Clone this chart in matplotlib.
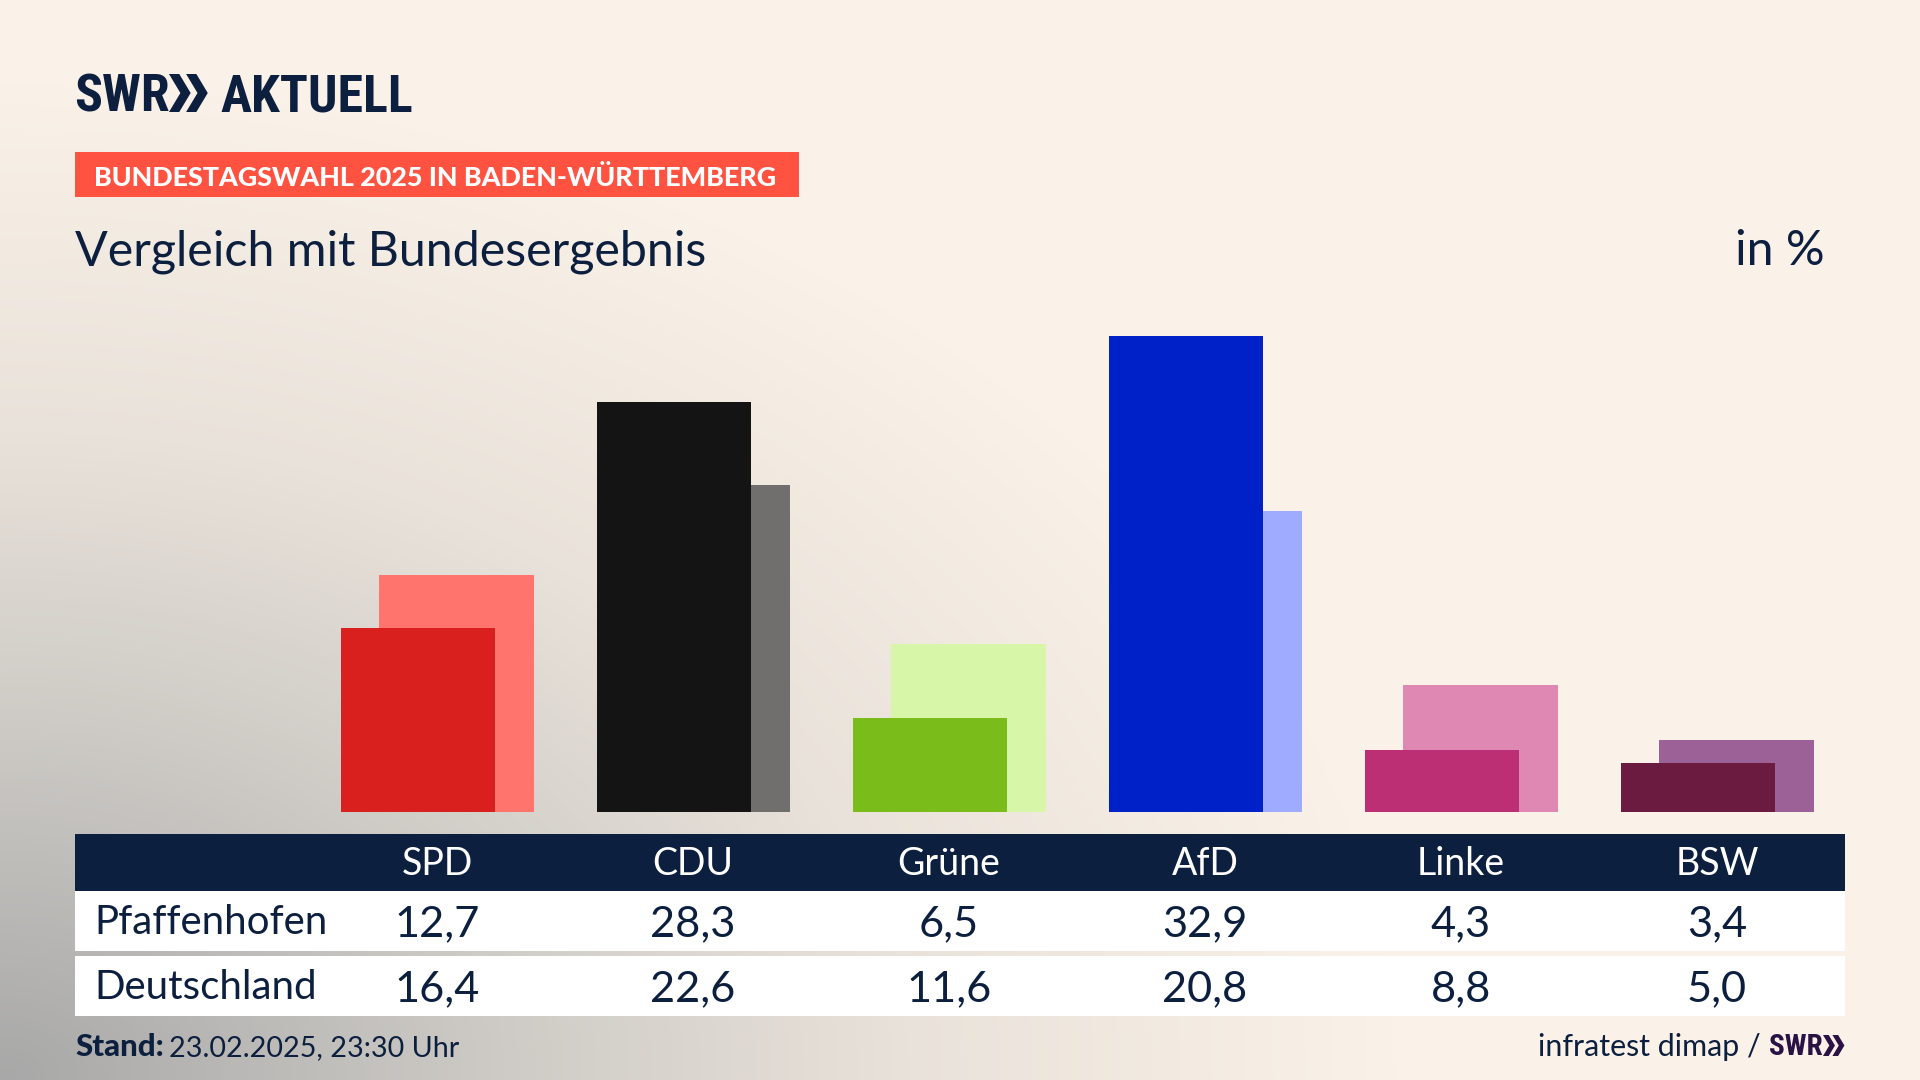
'''Bundestagswahl 2025: Pfaffenhofen compared with the federal result.'''
import matplotlib
matplotlib.use('Agg')
import matplotlib.patches as patches
import matplotlib.pyplot as plt
import numpy as np
from matplotlib import font_manager
from matplotlib.colors import LinearSegmentedColormap

parties = ['SPD', 'CDU', 'Grüne', 'AfD', 'Linke', 'BSW']
local_label = 'Pfaffenhofen'
federal_label = 'Deutschland'
local_values = [12.7, 28.3, 6.5, 32.9, 4.3, 3.4]
federal_values = [16.4, 22.6, 11.6, 20.8, 8.8, 5.0]
local_colors = ['#d9201f', '#141414', '#7abd1a', '#0021c8', '#bd2f75', '#6b1a40']
federal_colors = ['#ff746c', '#706f6d', '#d8f6a8', '#9fabff', '#e088b4', '#9c6197']

NAVY = '#0c1f3f'
W, H = 1920, 1080

# a condensed face for the logo if one exists, otherwise smaller Lato
installed = {f.name for f in font_manager.fontManager.ttflist}
if 'Roboto Condensed' in installed:
    LOGO_FONT, LOGO_SIZE, LOGO_SMALL = 'Roboto Condensed', 37.4, 21
else:
    LOGO_FONT, LOGO_SIZE, LOGO_SMALL = 'Lato', 31, 17


def fmt(value):
    return f'{value:.1f}'.replace('.', ',')


def chevrons(ax, x, y0, y1, color):
    '''the two SWR arrows, x is the left edge, y0 top and y1 bottom'''
    h = y1 - y0
    mid = (y0 + y1) / 2
    t, d = 0.27 * h, 0.3 * h
    for off in (0, 0.45 * h):
        ax.add_patch(patches.Polygon(
            [(x + off, y0), (x + off + t, y0), (x + off + t + d, mid),
             (x + off + t, y1), (x + off, y1), (x + off + d, mid)],
            closed=True, facecolor=color, edgecolor='none'))


plt.rcParams['font.family'] = ['Lato', 'DejaVu Sans']
fig = plt.figure(figsize=(W / 100, H / 100), dpi=100)

# background: cream, going grey towards the lower left corner
bg = fig.add_axes([0, 0, 1, 1], zorder=0)
yy, xx = np.mgrid[0:H:270j, 0:W:480j]
dist = np.sqrt((xx / 1400) ** 2 + ((H - yy) / 1000) ** 2)
shade = np.clip(dist, 0, 1)
cmap = LinearSegmentedColormap.from_list(
    'bg', [(0, '#a8a8a8'), (0.35, '#cdcac5'), (0.65, '#e9e2da'), (1, '#faf2e8')])
bg.imshow(shade, cmap=cmap, extent=(0, W, H, 0), aspect='auto', vmin=0, vmax=1, interpolation='bilinear')
bg.axis('off')

# bars
ppu = 14.48
ax_bottom, ax_top = 812, 812 - 35 * ppu
ax_left, ax_right = 75, 1845
ax = fig.add_axes([ax_left / W, 1 - ax_bottom / H, (ax_right - ax_left) / W, (ax_bottom - ax_top) / H], zorder=1)
ax.patch.set_alpha(0)
step = 256
x = np.arange(len(parties))
ax.bar(x + 0.0754, federal_values, width=0.605, color=federal_colors)
ax.bar(x - 0.0735, local_values, width=0.6, color=local_colors)
ax.set_xlim((ax_left - 437) / step, (ax_right - 437) / step)
ax.set_ylim(0, 35)
ax.axis('off')

# everything else in pixel coordinates
ov = fig.add_axes([0, 0, 1, 1], zorder=2)
ov.set_xlim(0, W)
ov.set_ylim(H, 0)
ov.axis('off')
ov.patch.set_alpha(0)

# logo
ov.text(74, 111, 'SWR', fontsize=LOGO_SIZE, fontweight='black', family=LOGO_FONT, color=NAVY, va='baseline', ha='left')
chevrons(ov, 169, 74, 112, NAVY)
ov.text(220, 111, 'AKTUELL', fontsize=LOGO_SIZE, fontweight='black', family=LOGO_FONT, color=NAVY, va='baseline', ha='left')

# header
ov.add_patch(patches.Rectangle((75, 152), 724, 45, facecolor='#ff5240', edgecolor='none'))
ov.text(94, 175, 'BUNDESTAGSWAHL 2025 IN BADEN-WÜRTTEMBERG', fontsize=19.4, fontweight='black',
        color='white', va='center_baseline', ha='left')
ov.text(75, 265, 'Vergleich mit Bundesergebnis', fontsize=34.8, color=NAVY, va='baseline', ha='left')
ov.text(1825, 265, 'in %', fontsize=34.8, color=NAVY, va='baseline', ha='right')

# table
ov.add_patch(patches.Rectangle((75, 834), 1770, 57, facecolor=NAVY, edgecolor='none'))
ov.add_patch(patches.Rectangle((75, 891), 1770, 60, facecolor='white', edgecolor='none'))
ov.add_patch(patches.Rectangle((75, 956), 1770, 60, facecolor='white', edgecolor='none'))
ov.text(94, 934, local_label, fontsize=29, color=NAVY, va='baseline', ha='left')
ov.text(94, 999, federal_label, fontsize=29, color=NAVY, va='baseline', ha='left')
for i, party in enumerate(parties):
    cx = 437 + step * i
    ov.text(cx, 875, party, fontsize=27, color='white', va='baseline', ha='center')
    ov.text(cx, 936, fmt(local_values[i]), fontsize=31.2, color=NAVY, va='baseline', ha='center')
    ov.text(cx, 1001, fmt(federal_values[i]), fontsize=31.2, color=NAVY, va='baseline', ha='center')

# footer
ov.text(75, 1056, 'Stand:', fontsize=22.5, fontweight='black', color=NAVY, va='baseline', ha='left')
ov.text(169, 1056, '23.02.2025, 23:30 Uhr', fontsize=20.7, color=NAVY, va='baseline', ha='left')
ov.text(1761, 1056, 'infratest dimap /', fontsize=21.9, color=NAVY, va='baseline', ha='right')
ov.text(1769, 1055, 'SWR', fontsize=LOGO_SMALL, fontweight='black', family=LOGO_FONT, color='#2a1245', va='baseline', ha='left')
chevrons(ov, 1823, 1035, 1056, '#2a1245')

fig.savefig('out.png', dpi=100)
